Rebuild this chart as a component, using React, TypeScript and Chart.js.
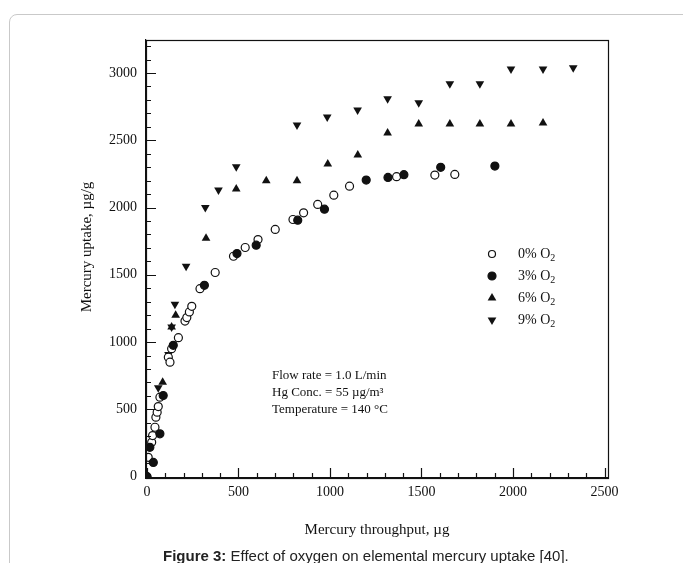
import React, { useEffect, useRef } from 'react';
import { Chart, registerables } from 'chart.js';

Chart.register(...registerables);

// 0% O2 (open circles)
const o0X = [0, 7, 26, 31, 44, 49, 56, 62, 71, 117, 126, 135, 172, 208, 218, 232, 245, 290, 373, 473, 537, 607, 701, 798, 856, 933, 1021, 1107, 1364, 1573, 1682];
const o0Y = [0, 144, 255, 305, 367, 442, 479, 521, 591, 888, 851, 951, 1033, 1156, 1182, 1224, 1266, 1397, 1517, 1638, 1703, 1762, 1837, 1911, 1961, 2023, 2092, 2159, 2229, 2241, 2246];
// 3% O2 (filled circles)
const o3X = [0, 16, 35, 71, 89, 144, 314, 492, 597, 824, 970, 1198, 1317, 1404, 1605, 1901];
const o3Y = [0, 218, 106, 318, 603, 976, 1422, 1658, 1720, 1906, 1988, 2204, 2224, 2244, 2299, 2308];
// 6% O2 (up triangles)
const o6X = [0, 86, 135, 157, 323, 488, 652, 820, 988, 1152, 1315, 1485, 1655, 1819, 1989, 2164];
const o6Y = [0, 702, 1112, 1199, 1772, 2137, 2199, 2199, 2323, 2390, 2554, 2621, 2621, 2621, 2621, 2628];
// 9% O2 (down triangles)
const o9X = [0, 62, 118, 135, 153, 214, 319, 391, 488, 820, 985, 1151, 1315, 1485, 1655, 1819, 1989, 2164, 2329];
const o9Y = [0, 660, 908, 1112, 1281, 1564, 2001, 2130, 2303, 2614, 2673, 2725, 2808, 2778, 2919, 2919, 3030, 3030, 3038];

const seriesNames = ['0% O', '3% O', '6% O', '9% O'];
const xTicks = [0, 500, 1000, 1500, 2000, 2500];
const yTicks = [0, 500, 1000, 1500, 2000, 2500, 3000];
const minorStep = 100;
const noteLines = ['Flow rate = 1.0 L/min', 'Hg Conc. = 55 µg/m³', 'Temperature = 140 °C'];
const xTitle = 'Mercury throughput, µg';
const yTitle = 'Mercury uptake, µg/g';

const SERIF = '"Liberation Serif", "Times New Roman", serif';
const INK = '#111';

function pts(xs: number[], ys: number[]) {
  return xs.map((x, i) => ({ x, y: ys[i] }));
}

function drawMarker(ctx: CanvasRenderingContext2D, kind: number, cx: number, cy: number) {
  ctx.beginPath();
  if (kind === 0 || kind === 1) {
    ctx.arc(cx, cy, kind === 0 ? 3.5 : 4, 0, Math.PI * 2);
    ctx.fillStyle = kind === 0 ? '#fff' : INK;
    ctx.fill();
    ctx.lineWidth = 1.2;
    ctx.strokeStyle = INK;
    ctx.stroke();
  } else {
    const r = 5;
    const s = kind === 2 ? 1 : -1;
    ctx.moveTo(cx, cy - s * r);
    ctx.lineTo(cx + r * 0.87, cy + s * r * 0.5);
    ctx.lineTo(cx - r * 0.87, cy + s * r * 0.5);
    ctx.closePath();
    ctx.fillStyle = INK;
    ctx.fill();
  }
}

const decor = {
  id: 'decor',
  afterDraw(chart: any) {
    const { ctx, chartArea: ca, scales } = chart;
    const x = scales.x;
    const y = scales.y;
    ctx.save();
    ctx.strokeStyle = INK;
    ctx.lineWidth = 1.2;
    ctx.strokeRect(Math.round(ca.left) + 0.5, Math.round(ca.top) + 0.5, Math.round(ca.right - ca.left), Math.round(ca.bottom - ca.top));
    ctx.beginPath();
    for (let v = 0; v <= 3200; v += minorStep) {
      const py = Math.round(y.getPixelForValue(v)) + 0.5;
      const len = v % 500 === 0 ? 10 : 5;
      ctx.moveTo(ca.left, py);
      ctx.lineTo(ca.left + len, py);
    }
    for (let v = 0; v <= 2500; v += minorStep) {
      const px = Math.round(x.getPixelForValue(v)) + 0.5;
      const len = v % 500 === 0 ? 10 : 5;
      ctx.moveTo(px, ca.bottom);
      ctx.lineTo(px, ca.bottom - len);
    }
    ctx.stroke();

    // y title
    ctx.save();
    ctx.translate(87, 247);
    ctx.rotate(-Math.PI / 2);
    ctx.font = `15px ${SERIF}`;
    ctx.fillStyle = INK;
    ctx.textAlign = 'center';
    ctx.textBaseline = 'middle';
    ctx.fillText(yTitle, 0, 0);
    ctx.restore();

    // legend
    ctx.textBaseline = 'middle';
    ctx.textAlign = 'left';
    seriesNames.forEach((name, i) => {
      const ly = 254 + i * 22;
      drawMarker(ctx, i, 492, ly);
      ctx.fillStyle = INK;
      ctx.font = `14px ${SERIF}`;
      ctx.fillText(name, 518, ly);
      const w = ctx.measureText(name).width;
      ctx.font = `10px ${SERIF}`;
      ctx.fillText('2', 518 + w, ly + 4);
    });

    // annotation
    ctx.font = `13px ${SERIF}`;
    ctx.fillStyle = INK;
    noteLines.forEach((t, i) => {
      ctx.fillText(t, 272, 376 + i * 17);
    });
    ctx.restore();
  },
};

export default function App() {
  const ref = useRef<HTMLCanvasElement | null>(null);
  useEffect(() => {
    if (!ref.current) return;
    const common = { showLine: false, borderColor: INK, pointBorderWidth: 1.2 };
    const chart = new Chart(ref.current, {
      type: 'scatter',
      data: {
        datasets: [
          { ...common, label: '3% O2', data: pts(o3X, o3Y), pointStyle: 'circle', pointRadius: 4, backgroundColor: INK, pointBackgroundColor: INK },
          { ...common, label: '0% O2', data: pts(o0X, o0Y), pointStyle: 'circle', pointRadius: 4, backgroundColor: '#fff', pointBackgroundColor: '#fff' },
          { ...common, label: '6% O2', data: pts(o6X, o6Y), pointStyle: 'triangle', pointRadius: 5, pointBorderWidth: 0, backgroundColor: INK, pointBackgroundColor: INK },
          { ...common, label: '9% O2', data: pts(o9X, o9Y), pointStyle: 'triangle', pointRotation: 180, pointRadius: 5, pointBorderWidth: 0, backgroundColor: INK, pointBackgroundColor: INK },
        ],
      } as any,
      options: {
        animation: false,
        responsive: false,
        maintainAspectRatio: false,
        layout: { padding: { left: 0, top: 40, right: 75, bottom: 0 } },
        plugins: { legend: { display: false }, tooltip: { enabled: false } },
        scales: {
          x: {
            type: 'linear',
            min: -5,
            max: 2519,
            afterBuildTicks: (s: any) => { s.ticks = xTicks.map((v) => ({ value: v })); },
            afterFit: (s: any) => { s.height = 85; },
            grid: { display: false, drawTicks: false },
            border: { display: true, color: INK, width: 1.2 },
            ticks: { padding: 6, color: INK, font: { family: SERIF, size: 14 }, maxRotation: 0, autoSkip: false, callback: (v: any) => String(v) },
            title: { display: true, text: xTitle, color: INK, font: { family: SERIF, size: 15 }, padding: { top: 0, bottom: 24 } },
          },
          y: {
            type: 'linear',
            min: -10,
            max: 3245,
            afterBuildTicks: (s: any) => { s.ticks = yTicks.map((v) => ({ value: v })); },
            afterFit: (s: any) => { s.width = 146; },
            grid: { display: false, drawTicks: false },
            border: { display: true, color: INK, width: 1.2 },
            ticks: { padding: 9, color: INK, font: { family: SERIF, size: 14 }, autoSkip: false, callback: (v: any) => String(v) },
          },
        },
      } as any,
      plugins: [decor],
    });
    return () => chart.destroy();
  }, []);

  return (
    <div style={{ position: 'fixed', left: 0, top: 0, width: 683, height: 563, background: '#fff', overflow: 'hidden' }}>
      <div style={{ position: 'absolute', left: 9, top: 14, width: 720, height: 600, border: '1px solid #c9c9c9', borderRadius: 8, boxSizing: 'border-box' }} />
      <canvas ref={ref} width={683} height={563} style={{ position: 'absolute', left: 0, top: 0, width: 683, height: 563 }} />
      <div style={{ position: 'absolute', left: 163, top: 547, fontFamily: '"Liberation Sans", Arial, sans-serif', fontSize: 15, color: '#222', whiteSpace: 'nowrap', lineHeight: '18px' }}>
        <b>Figure 3:</b> Effect of oxygen on elemental mercury uptake [40].
      </div>
    </div>
  );
}
